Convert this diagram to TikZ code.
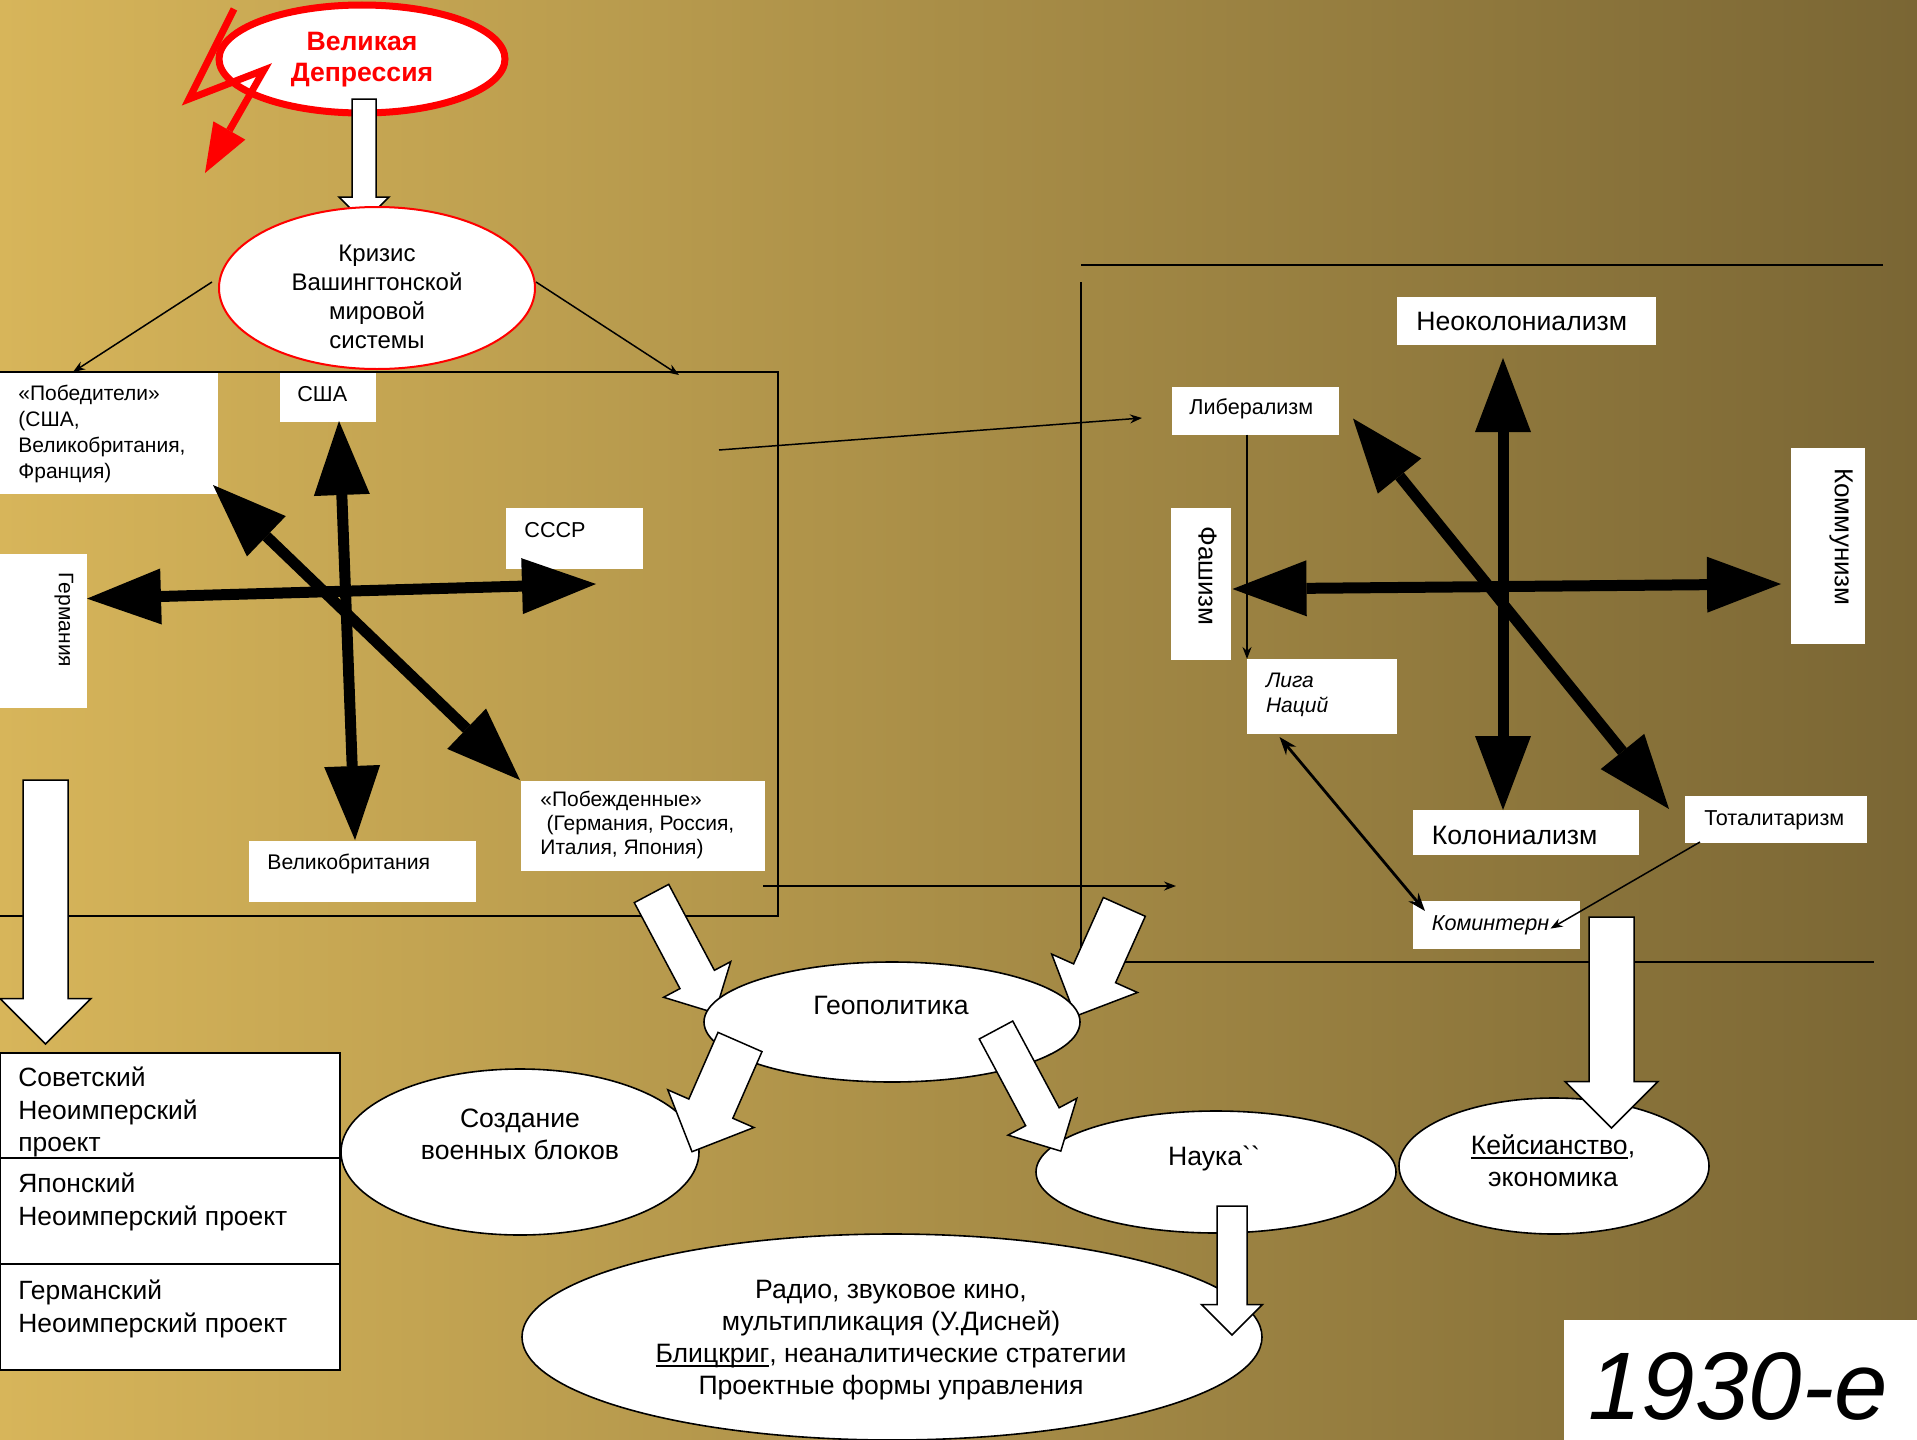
\documentclass[tikz,border=0pt]{standalone}
\usepackage{fontspec}
\setmainfont{Liberation Sans}
\newfontfamily\rawsans{Liberation Sans}[Ligatures=TeXOff]
\usetikzlibrary{shapes.geometric,arrows.meta,calc}
\definecolor{bgL}{RGB}{215,181,90}
\definecolor{bgR}{RGB}{122,102,52}
\definecolor{depred}{RGB}{255,0,0}
\newcommand\myul[1]{\setbox0\hbox{#1}\rlap{\rule[-2.1pt]{\wd0}{1pt}}\box0}
\newcommand\blockarr[4]{%
  \coordinate (bah) at ($(#2)!#4!(#1)$);
  \draw[barrow] ($(#1)!#3!90:(#2)$) -- ($(bah)!#3!90:(#2)$) -- ($(bah)!#4!90:(#2)$) -- (#2) -- ($(bah)!#4!-90:(#2)$) -- ($(bah)!#3!-90:(#2)$) -- ($(#1)!#3!-90:(#2)$) -- cycle;}
\tikzset{
  frameline/.style={draw=black, line width=0.8pt},
  wbox/.style={fill=white, draw=none, inner sep=0pt, outer sep=0pt, anchor=north west},
  sbox/.style={fill=white, draw=black, line width=1pt, inner sep=0pt, outer sep=0pt, anchor=north west},
  ell/.style={ellipse, fill=white, draw=black, line width=0.8pt, inner sep=0pt},
  bigarr/.style={line width=5.5pt, {Triangle[length=37pt,width=28pt,line width=0pt]}-{Triangle[length=37pt,width=28pt,line width=0pt]}},
  thinarr/.style={line width=0.75pt, -{Stealth[length=6pt,width=4.5pt]}},
  barrow/.style={fill=white, draw=black, line width=0.75pt, line join=miter},
  sm/.style={inner sep=0pt, align=left, anchor=west, font=\fontsize{10.8}{12.8}\selectfont},
  md/.style={inner sep=0pt, align=center, font=\fontsize{13.3}{16}\selectfont},
  mdl/.style={inner sep=0pt, align=left, anchor=west, font=\fontsize{13.3}{16}\selectfont},
}
\begin{document}
\begin{tikzpicture}[x=0.5pt,y=-0.5pt]
\useasboundingbox (0,0) rectangle (1917,1440);
\shade[left color=bgL, right color=bgR] (0,0) rectangle (1917,1440);

% frames
\draw[frameline] (0,372) -- (778,372) -- (778,916) -- (0,916);
\draw[frameline] (1081,265) -- (1883,265);
\draw[frameline] (1081,282) -- (1081,962) -- (1874,962);

% coordinates
\coordinate (k1) at (212,282); \coordinate (k1e) at (73,372);
\coordinate (k2) at (536,282); \coordinate (k2e) at (679,375);
\coordinate (t1s) at (719,450); \coordinate (t1e) at (1142,418);
\coordinate (t2s) at (763,886); \coordinate (t2e) at (1176,886);
\coordinate (lb1) at (1247,434.5);
\coordinate (lg1) at (1279.5,737); \coordinate (km1) at (1425,911);
\coordinate (tt1) at (1700,842); \coordinate (km2) at (1550.5,928.6);

\coordinate (lu) at (339,421); \coordinate (ld) at (355,840);
\coordinate (ll) at (87,598.6); \coordinate (lr) at (596,584);
\coordinate (lnw) at (213,485); \coordinate (lse) at (520,780);
\coordinate (ru) at (1503,358); \coordinate (rd) at (1503,810);
\coordinate (rl) at (1232.5,589); \coordinate (rr) at (1781,584);
\coordinate (rnw) at (1353,418.5); \coordinate (rse) at (1669,809);

% thin arrows
\draw[thinarr] (t1s) -- (t1e);
\draw[thinarr] (t2s) -- (t2e);

% boxes left cluster
\node[wbox, minimum width=109pt, minimum height=60.5pt] (pob) at (0,373) {};
\node[wbox, minimum width=48pt, minimum height=24.5pt] (usa) at (280,373) {};
\node[wbox, minimum width=68.5pt, minimum height=30.75pt] (sssr) at (506,507.5) {};
\node[wbox, minimum width=43.5pt, minimum height=77pt] (ger) at (0,554) {};
\node[wbox, minimum width=113.5pt, minimum height=30.5pt] (gb) at (249,841) {};
\node[wbox, minimum width=122pt, minimum height=45pt] (pobzh) at (521,781) {};

\node[sm, font=\fontsize{10.5}{12.85}\selectfont] (tpob) at (18,434) {«Победители»\\(США,\\Великобритания,\\Франция)};
\node[sm] (tusa) at (297,394) {США};
\node[sm] (tsssr) at (524,530) {СССР};
\node[inner sep=0pt, rotate=-90, font=\fontsize{10.5}{12}\selectfont] (tger) at (64,620) {Германия};
\node[sm, font=\fontsize{10.6}{12}\selectfont] (tgb) at (267,864) {Великобритания};
\node[sm, font=\fontsize{10.5}{12}\selectfont] (tpobzh) at (540,824.5) {«Побежденные»\\\hspace*{0.3em}(Германия, Россия,\\Италия, Япония)};

% boxes right cluster
\node[wbox, minimum width=129.5pt, minimum height=24pt] (neokol) at (1397,297) {};
\node[wbox, minimum width=83.5pt, minimum height=23.75pt] (liber) at (1172,387) {};
\node[wbox, minimum width=30pt, minimum height=76pt] (fash) at (1171,508) {};
\node[wbox, minimum width=36.75pt, minimum height=98pt] (komm) at (1791,448) {};
\node[wbox, minimum width=75pt, minimum height=37.5pt] (liga) at (1247,659) {};
\node[wbox, minimum width=113pt, minimum height=22.5pt] (kolon) at (1413,810) {};
\node[wbox, minimum width=91pt, minimum height=23.5pt] (total) at (1685,796) {};
\node[wbox, minimum width=83.5pt, minimum height=24pt] (komint) at (1413,901) {};

\node[mdl] (tneokol) at (1416,321) {Неоколониализм};
\node[sm] (tliber) at (1189,409) {Либерализм};
\node[inner sep=0pt, rotate=-90, font=\fontsize{13}{15}\selectfont] (tfash) at (1207.6,576) {Фашизм};
\node[inner sep=0pt, rotate=-90, font=\fontsize{13}{15}\selectfont] (tkomm) at (1841,537) {Коммунизм};
\node[sm, font=\fontsize{10.5}{12.75}\selectfont\itshape] (tliga) at (1265.6,695) {Лига\\Наций};
\node[mdl] (tkolon) at (1431.5,835) {Колониализм};
\node[sm] (ttotal) at (1704,820) {Тоталитаризм};
\node[sm, font=\fontsize{10.8}{12.75}\selectfont\itshape] (tkomint) at (1431.5,925) {Коминтерн};

% thin arrows in right cluster
\draw[thinarr] (lb1) -- (liga.north west);
\draw[line width=1.4pt, {Stealth[length=9pt,width=6.5pt]}-{Stealth[length=9pt,width=6.5pt]}] (lg1) -- (km1);
\draw[thinarr] (tt1) -- (km2);

% big arrows
\draw[bigarr] (lu) -- (ld);
\draw[bigarr] (ll) -- (lr);
\draw[bigarr] (lnw) -- (lse);
\draw[bigarr] (ru) -- (rd);
\draw[bigarr] (rl) -- (rr);
\draw[bigarr] (rnw) -- (rse);

% Great Depression
\node[ell, draw=depred, line width=3.5pt, minimum width=143pt, minimum height=54pt] (dep) at (362,59) {};
\node[inner sep=0pt, align=center, text=depred, font=\fontsize{13.3}{15.5}\selectfont\bfseries] (tdep) at (362,60) {Великая\\Депрессия};
\coordinate (z1) at (234,9); \coordinate (z2) at (189,99); \coordinate (z3) at (264,70); \coordinate (z4) at (205,173);
\draw[depred, line width=3.5pt, line join=miter, -{Triangle[length=24.5pt,width=18.4pt,line width=0pt]}] (z1) -- (z2) -- (z3) -- (z4);

\coordinate (b1s) at (364,99); \coordinate (b1e) at (364,222);
\blockarr{b1s}{b1e}{6pt}{12.5pt}

% Crisis
\node[ell, draw=depred, line width=1pt, minimum width=158pt, minimum height=81pt] (kriz) at (377,288) {};
\node[md, font=\fontsize{12}{14.5}\selectfont] (tkriz) at (377,297) {Кризис\\Вашингтонской\\мировой\\системы};
\draw[thinarr] (k1) -- (k1e);
\draw[thinarr] (k2) -- (k2e);

% left down arrow and stack
\coordinate (b2s) at (45.5,780); \coordinate (b2e) at (45.5,1044);
\blockarr{b2s}{b2e}{11.25pt}{22.75pt}
\node[sbox, minimum width=170pt, minimum height=52.75pt] (st1) at (0,1052.5) {};
\node[sbox, minimum width=170pt, minimum height=53pt] (st2) at (0,1158) {};
\node[sbox, minimum width=170pt, minimum height=53pt] (st3) at (0,1264) {};
\node[sm, font=\fontsize{13.2}{16.25}\selectfont] (tst1) at (18,1112) {Советский\\Неоимперский\\проект};
\node[sm, font=\fontsize{13.2}{16.25}\selectfont] (tst2) at (18,1202) {Японский\\Неоимперский проект};
\node[sm, font=\fontsize{13.2}{16.5}\selectfont] (tst3) at (18,1308.5) {Германский\\Неоимперский проект};

% incoming arrows to geopolitics
\coordinate (b3s) at (651.5,893.5); \coordinate (b3e) at (715,1013);
\blockarr{b3s}{b3e}{9.75pt}{19pt}
\coordinate (b4s) at (1124.3,906.9); \coordinate (b4e) at (1075.4,1016.2);
\blockarr{b4s}{b4e}{11.5pt}{23.5pt}

\node[ell, minimum width=188pt, minimum height=60pt] (geo) at (892,1022) {};
\node[md] (tgeo) at (891,1005) {Геополитика};

\node[ell, minimum width=179pt, minimum height=83pt] (soz) at (520,1152) {};
\node[md] (tsoz) at (520,1134) {Создание\\военных блоков};
\node[ell, minimum width=180pt, minimum height=61pt] (nauka) at (1216,1172) {};
\node[md] (tnauka) at (1214,1158) {Наука{\rawsans ``}};
\node[ell, minimum width=155pt, minimum height=68pt] (keyn) at (1554,1166) {};
\node[md] (tkeyn) at (1553,1161) {\myul{Кейсианство},\\экономика};
\node[ell, minimum width=370pt, minimum height=103pt] (radio) at (892,1337) {};
\node[md] (tradio) at (891,1340) {Радио, звуковое кино,\\мультипликация (У.Дисней)\\\myul{Блицкриг}, неаналитические стратегии\\Проектные формы управления};

\coordinate (b5s) at (740,1042); \coordinate (b5e) at (692,1151.7);
\blockarr{b5s}{b5e}{12pt}{23.5pt}
\coordinate (b6s) at (996,1030); \coordinate (b6e) at (1060.8,1151.1);
\blockarr{b6s}{b6e}{9.5pt}{19.5pt}
\coordinate (b7s) at (1232,1206); \coordinate (b7e) at (1232,1335);
\blockarr{b7s}{b7e}{7.5pt}{15.25pt}
\coordinate (b8s) at (1611.5,917); \coordinate (b8e) at (1611.5,1128);
\blockarr{b8s}{b8e}{11.25pt}{23.25pt}

% year
\node[wbox, minimum width=176.5pt, minimum height=60pt] (year) at (1564,1320) {};
\node[inner sep=0pt, anchor=base, font=\fontsize{48}{50}\selectfont\itshape] (tyear) at (1738,1419) {1930-е};
\end{tikzpicture}
\end{document}
